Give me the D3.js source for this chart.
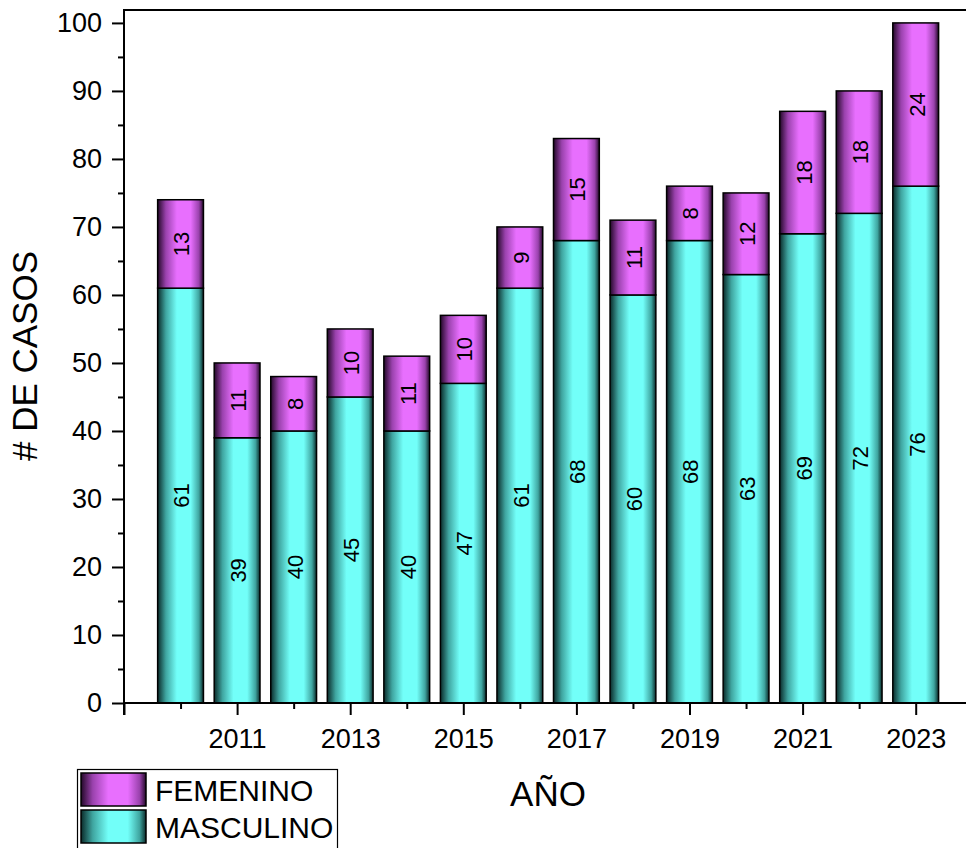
<!DOCTYPE html>
<html><head><meta charset="utf-8">
<script src="https://cdn.jsdelivr.net/npm/d3@7"></script>
<style>body{margin:0;background:#fff}svg{display:block}text{font-family:Arial,"Liberation Sans",sans-serif;fill:#000}</style>
</head><body><svg id="c" width="966" height="848"></svg>
<script>
const years = [2010,2011,2012,2013,2014,2015,2016,2017,2018,2019,2020,2021,2022,2023];
const masculino = [61,39,40,45,40,47,61,68,60,68,63,69,72,76];
const femenino = [13,11,8,10,11,10,9,15,11,8,12,18,18,24];
const yTicks = [0,10,20,30,40,50,60,70,80,90,100];
const xTickLabels = [2011,2013,2015,2017,2019,2021,2023];
const seriesNames = ["FEMENINO","MASCULINO"];

(function(){
const svg = d3.select("#c");
const pL = 124, pT = 10, pB = 703;
const FONT = "Arial, Liberation Sans, sans-serif";
const x = d3.scaleLinear().domain([2009, 2024]).range([pL, pL + 15*56.55]);
const y = d3.scaleLinear().domain([0, 101.9]).range([pB, pT]);
const bw = 0.81 * (x(1) - x(0));

const defs = svg.append("defs");
function grad(id, dark, mid, bright){
  const g = defs.append("linearGradient").attr("id", id).attr("x1","0").attr("x2","1").attr("y1","0").attr("y2","0");
  [[0,dark],[0.18,mid],[0.42,bright],[0.72,bright],[0.9,mid],[1,dark]].forEach(s =>
    g.append("stop").attr("offset", s[0]).attr("stop-color", s[1]));
}
grad("gf", "#230828", "#9a42ad", "#e86ffe");
grad("gm", "#0a2a29", "#3fa5a0", "#72fff9");

svg.append("line").attr("x1", pL).attr("x2", 966).attr("y1", pT).attr("y2", pT).attr("stroke","#000").attr("stroke-width",2);

const g = svg.append("g");
years.forEach((yr, i) => {
  const cx = x(yr);
  const m = masculino[i], f = femenino[i];
  g.append("rect").attr("x", cx - bw/2).attr("width", bw)
    .attr("y", y(m)).attr("height", y(0) - y(m))
    .attr("fill","url(#gm)").attr("stroke","#000").attr("stroke-width",1.5);
  g.append("rect").attr("x", cx - bw/2).attr("width", bw)
    .attr("y", y(m+f)).attr("height", y(m) - y(m+f))
    .attr("fill","url(#gf)").attr("stroke","#000").attr("stroke-width",1.5);
  const lbl = (val, ymid) => g.append("text")
    .attr("transform", `translate(${cx+1},${y(ymid)}) rotate(-90)`)
    .attr("text-anchor","middle").attr("dy","0.36em")
    .attr("font-size", 22).text(val);
  lbl(m, m/2);
  lbl(f, m + f/2);
});

const yAxis = d3.axisLeft(y).tickValues(yTicks).tickSize(12).tickPadding(10).tickFormat(d3.format("d"));
const ya = svg.append("g").attr("transform", `translate(${pL},0)`).call(yAxis);
ya.select(".domain").remove();
ya.selectAll(".tick line").attr("stroke-width",2);
ya.selectAll(".tick text").attr("font-size",27).attr("font-family",FONT);
svg.append("g").attr("transform", `translate(${pL},0)`)
  .call(d3.axisLeft(y).tickValues(d3.range(5,101,10)).tickSize(6).tickFormat(""))
  .call(s => { s.select(".domain").remove(); s.selectAll("line").attr("stroke-width",2); });
svg.append("line").attr("x1", pL).attr("x2", pL).attr("y1", pT-1).attr("y2", pB+12).attr("stroke","#000").attr("stroke-width",2);

const majorX = [2009].concat(xTickLabels);
const xa = svg.append("g").attr("transform", `translate(0,${pB})`)
  .call(d3.axisBottom(x).tickValues(majorX).tickSize(12).tickPadding(14).tickFormat(d => d === 2009 ? "" : d));
xa.select(".domain").remove();
xa.selectAll(".tick line").attr("stroke-width",2);
xa.selectAll(".tick text").attr("font-size",27).attr("font-family",FONT);
svg.append("g").attr("transform", `translate(0,${pB})`)
  .call(d3.axisBottom(x).tickValues(d3.range(2010,2024,2)).tickSize(6).tickFormat(""))
  .call(s => { s.select(".domain").remove(); s.selectAll("line").attr("stroke-width",2); });
svg.append("line").attr("x1", pL-1).attr("x2", 966).attr("y1", pB).attr("y2", pB).attr("stroke","#000").attr("stroke-width",2);

svg.append("text").attr("transform", `translate(37,356) rotate(-90)`)
  .attr("text-anchor","middle").attr("font-size",35).text("# DE CASOS");
svg.append("text").attr("x", 548).attr("y", 806).attr("text-anchor","middle").attr("font-size",35).text("AÑO");

const lg = svg.append("g");
lg.append("rect").attr("x",77.5).attr("y",769.5).attr("width",260).attr("height",90).attr("fill","#fff").attr("stroke","#000").attr("stroke-width",1.2);
const grads = ["url(#gf)","url(#gm)"];
seriesNames.forEach((n, i) => {
  const yy = 773 + i*37;
  lg.append("rect").attr("x",81).attr("y",yy).attr("width",65).attr("height",33).attr("fill",grads[i]).attr("stroke","#000").attr("stroke-width",1.5);
  lg.append("text").attr("x",155).attr("y",yy+17).attr("dy","0.36em").attr("font-size",30).text(n);
});
})();
</script></body></html>
